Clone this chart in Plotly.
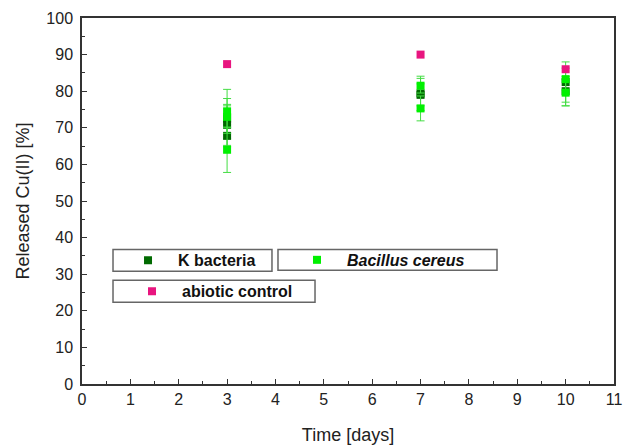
import plotly.graph_objects as go

# ---- data ----
k_x = [3, 3, 3, 7, 7, 10, 10]
k_y = [72.5, 70.8, 67.8, 79.4, 79.0, 82.5, 80.0]
k_err = [5.5, 5.6, 3.0, 4.7, 3.0, 5.5, 4.0]

b_x = [3, 3, 3, 7, 7, 10, 10]
b_y = [74.5, 73.0, 64.0, 81.5, 75.3, 83.3, 79.6]
b_err = [6.0, 3.0, 6.2, 2.0, 3.4, 3.0, 3.6]

a_x = [3, 7, 10]
a_y = [87.4, 90.0, 86.0]

x_ticks = list(range(0, 12))
y_ticks = list(range(0, 101, 10))

FONT = "Liberation Sans, Arial, sans-serif"
ERR_COL = "#44dd44"

fig = go.Figure()
fig.add_trace(go.Scatter(
    x=k_x, y=k_y, mode="markers", name="K bacteria",
    marker=dict(symbol="square", size=8, color="#006a00"),
    error_y=dict(type="data", array=k_err, visible=True, color=ERR_COL, thickness=1, width=4),
    legend="legend", showlegend=True))
fig.add_trace(go.Scatter(
    x=b_x, y=b_y, mode="markers", name="<i>Bacillus cereus</i>",
    marker=dict(symbol="square", size=8, color="#00f000"),
    error_y=dict(type="data", array=b_err, visible=True, color=ERR_COL, thickness=1, width=4),
    legend="legend2", showlegend=True))
fig.add_trace(go.Scatter(
    x=a_x, y=a_y, mode="markers", name="abiotic control",
    marker=dict(symbol="square", size=8, color="#e8157f"),
    legend="legend3", showlegend=True))

leg_common = dict(
    orientation="h", bgcolor="rgba(0,0,0,0)", borderwidth=0,
    font=dict(family=FONT, size=16, color="#111", weight="bold"),
    xanchor="left", yanchor="middle",
    itemwidth=50, itemsizing="trace")

# legend frames (paper coords)
boxes = [
    (0.0583, 0.3571, 0.3079, 0.3678),
    (0.3684, 0.7801, 0.3106, 0.3678),
    (0.0583, 0.4380, 0.2234, 0.2834),
]
shapes = [dict(type="rect", xref="paper", yref="paper", x0=a, x1=b, y0=c, y1=d,
               line=dict(color="#666666", width=1.5), fillcolor="white", layer="above")
          for a, b, c, d in boxes]

fig.update_layout(
    width=623, height=445,
    margin=dict(l=82, r=9, t=18, b=61, autoexpand=False),
    paper_bgcolor="white", plot_bgcolor="white",
    showlegend=True,
    font=dict(family=FONT, size=16, color="#222"),
    shapes=shapes,
    legend=dict(**leg_common, x=0.0677, y=0.338),
    legend2=dict(**leg_common, x=0.3853, y=0.339),
    legend3=dict(**leg_common, x=0.0752, y=0.2534),
    xaxis=dict(
        range=[0, 11], tickvals=x_ticks, ticktext=[str(v) for v in x_ticks],
        ticks="inside", ticklen=5, tickwidth=1, tickcolor="#333",
        minor=dict(dtick=0.5, ticks="inside", ticklen=3, tickcolor="#333"),
        showline=True, linecolor="#333", linewidth=1.5, mirror=True,
        showgrid=False, zeroline=False, automargin=False,
        title=dict(text="Time [days]", font=dict(size=18), standoff=21),
        tickfont=dict(size=16)),
    yaxis=dict(
        range=[0, 100], tickvals=y_ticks, ticktext=[str(v) for v in y_ticks],
        ticks="inside", ticklen=5, tickwidth=1, tickcolor="#333",
        minor=dict(dtick=5, ticks="inside", ticklen=3, tickcolor="#333"),
        showline=True, linecolor="#333", linewidth=1.5, mirror=True,
        showgrid=False, zeroline=False, ticklabelstandoff=4, automargin=False,
        title=dict(text="Released Cu(II) [%]", font=dict(size=18), standoff=12),
        tickfont=dict(size=16)),
)

fig.write_html("out.html")
